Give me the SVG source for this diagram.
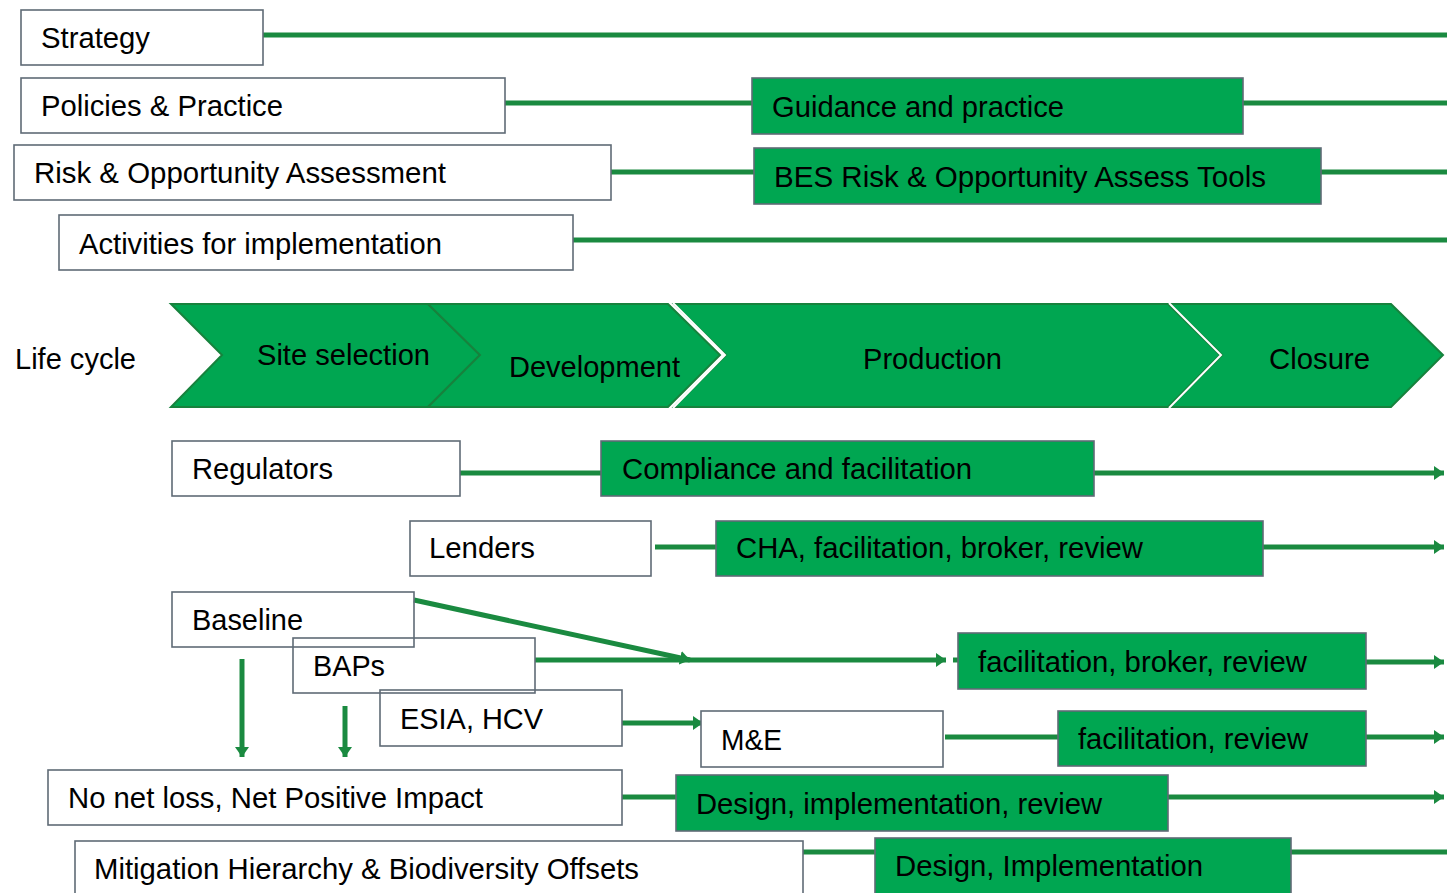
<svg xmlns="http://www.w3.org/2000/svg" width="1447" height="893" viewBox="0 0 1447 893">
<style>
.box{fill:#ffffff;stroke:#5f6b76;stroke-width:1.6}
.open{fill:none;stroke:#5f6b76;stroke-width:1.6}
.gbox{fill:#00a651;stroke:#5f6b76;stroke-width:1.6}
.chev{fill:#00a651;stroke:#17823d;stroke-width:2}
.sep{fill:none;stroke:#ffffff;stroke-width:2}
.ln{fill:none;stroke:#1a8a40;stroke-width:5}
text{font-family:"Liberation Sans",Arial,sans-serif;font-size:29px;fill:#000000}
</style>
<defs>
<marker id="ah" markerUnits="userSpaceOnUse" markerWidth="12" markerHeight="14" refX="10" refY="7" orient="auto">
<path d="M0,0 L10,7 L0,14 Z" fill="#1a8a40"/>
</marker>
</defs>

<g id="connectors">
<line class="ln" x1="263" y1="35" x2="1447" y2="35"/>
<line class="ln" x1="505" y1="103" x2="752" y2="103"/>
<line class="ln" x1="1243" y1="103" x2="1447" y2="103"/>
<line class="ln" x1="611" y1="172" x2="754" y2="172"/>
<line class="ln" x1="1321" y1="172" x2="1447" y2="172"/>
<line class="ln" x1="573" y1="240" x2="1447" y2="240"/>
<line class="ln" x1="460" y1="473" x2="601" y2="473"/>
<line class="ln" x1="1094" y1="473" x2="1444" y2="473" marker-end="url(#ah)"/>
<line class="ln" x1="655" y1="547" x2="716" y2="547"/>
<line class="ln" x1="1263" y1="547" x2="1444" y2="547" marker-end="url(#ah)"/>
<line class="ln" x1="414" y1="600" x2="690" y2="660" marker-end="url(#ah)"/>
<line class="ln" x1="535" y1="660" x2="946" y2="660" marker-end="url(#ah)"/>
<line class="ln" x1="953" y1="660" x2="958" y2="660"/>
<line class="ln" x1="1366" y1="662" x2="1444" y2="662" marker-end="url(#ah)"/>
<line class="ln" x1="622" y1="723" x2="703" y2="723" marker-end="url(#ah)"/>
<line class="ln" x1="945" y1="737" x2="1058" y2="737"/>
<line class="ln" x1="1366" y1="737" x2="1444" y2="737" marker-end="url(#ah)"/>
<line class="ln" x1="242" y1="659" x2="242" y2="757" marker-end="url(#ah)"/>
<line class="ln" x1="345" y1="706" x2="345" y2="757" marker-end="url(#ah)"/>
<line class="ln" x1="622" y1="797" x2="676" y2="797"/>
<line class="ln" x1="1168" y1="797" x2="1444" y2="797" marker-end="url(#ah)"/>
<line class="ln" x1="803" y1="852" x2="875" y2="852"/>
<line class="ln" x1="1291" y1="852" x2="1447" y2="852"/>
</g>

<g id="strategy"><rect class="box" x="21" y="10" width="242" height="55"/><text x="41" y="48" textLength="109" lengthAdjust="spacingAndGlyphs">Strategy</text></g>
<g id="policies"><rect class="box" x="21" y="78" width="484" height="55"/><text x="41" y="116" textLength="242" lengthAdjust="spacingAndGlyphs">Policies &amp; Practice</text></g>
<g id="guidance"><rect class="gbox" x="752" y="78" width="491" height="56"/><text x="772" y="117" textLength="292" lengthAdjust="spacingAndGlyphs">Guidance and practice</text></g>
<g id="risk"><rect class="box" x="14" y="145" width="597" height="55"/><text x="34" y="183" textLength="412" lengthAdjust="spacingAndGlyphs">Risk &amp; Opportunity Assessment</text></g>
<g id="bes"><rect class="gbox" x="754" y="148" width="567" height="56"/><text x="774" y="187" textLength="492" lengthAdjust="spacingAndGlyphs">BES Risk &amp; Opportunity Assess Tools</text></g>
<g id="activities"><rect class="box" x="59" y="215" width="514" height="55"/><text x="79" y="254" textLength="363" lengthAdjust="spacingAndGlyphs">Activities for implementation</text></g>

<g id="lifecycle-label"><text x="15" y="369" textLength="121" lengthAdjust="spacingAndGlyphs">Life cycle</text></g>
<g id="site-selection"><polygon class="chev" points="171,304 428,304 480,355 428,407 171,407 222,355"/><text x="257" y="365" textLength="173" lengthAdjust="spacingAndGlyphs">Site selection</text></g>
<g id="development"><polygon class="chev" points="428,304 668,304 720,355 668,407 428,407 480,355"/><text x="509" y="377" textLength="171" lengthAdjust="spacingAndGlyphs">Development</text></g>
<g id="production"><polygon class="chev" points="674,304 1168,304 1220,355 1168,407 674,407 726,355"/><polyline class="sep" points="673,303 725,355 673,408"/><text x="863" y="369" textLength="139" lengthAdjust="spacingAndGlyphs">Production</text></g>
<g id="closure"><polygon class="chev" points="1170,304 1391,304 1443,355 1391,407 1170,407 1222,355"/><polyline class="sep" points="1169,303 1221,355 1169,408"/><text x="1269" y="369" textLength="101" lengthAdjust="spacingAndGlyphs">Closure</text></g>

<g id="regulators"><rect class="box" x="172" y="441" width="288" height="55"/><text x="192" y="479" textLength="141" lengthAdjust="spacingAndGlyphs">Regulators</text></g>
<g id="compliance"><rect class="gbox" x="601" y="441" width="493" height="55"/><text x="622" y="479" textLength="350" lengthAdjust="spacingAndGlyphs">Compliance and facilitation</text></g>
<g id="lenders"><rect class="box" x="410" y="521" width="241" height="55"/><text x="429" y="558" textLength="106" lengthAdjust="spacingAndGlyphs">Lenders</text></g>
<g id="cha"><rect class="gbox" x="716" y="521" width="547" height="55"/><text x="736" y="558" textLength="407" lengthAdjust="spacingAndGlyphs">CHA, facilitation, broker, review</text></g>

<g id="baseline"><rect class="open" x="172" y="592" width="242" height="55"/><text x="192" y="630" textLength="111" lengthAdjust="spacingAndGlyphs">Baseline</text></g>
<g id="baps"><rect class="open" x="293" y="638" width="242" height="55"/><text x="313" y="676" textLength="72" lengthAdjust="spacingAndGlyphs">BAPs</text></g>
<g id="esia"><rect class="open" x="380" y="690" width="242" height="56"/><text x="400" y="729" textLength="143" lengthAdjust="spacingAndGlyphs">ESIA, HCV</text></g>
<g id="fbr"><rect class="gbox" x="958" y="633" width="408" height="56"/><text x="978" y="672" textLength="329" lengthAdjust="spacingAndGlyphs">facilitation, broker, review</text></g>
<g id="me"><rect class="box" x="701" y="711" width="242" height="56"/><text x="721" y="750" textLength="61" lengthAdjust="spacingAndGlyphs">M&amp;E</text></g>
<g id="fr"><rect class="gbox" x="1058" y="711" width="308" height="55"/><text x="1078" y="749" textLength="230" lengthAdjust="spacingAndGlyphs">facilitation, review</text></g>

<g id="nnl"><rect class="box" x="48" y="770" width="574" height="55"/><text x="68" y="808" textLength="415" lengthAdjust="spacingAndGlyphs">No net loss, Net Positive Impact</text></g>
<g id="dir"><rect class="gbox" x="676" y="775" width="492" height="56"/><text x="696" y="814" textLength="406" lengthAdjust="spacingAndGlyphs">Design, implementation, review</text></g>
<g id="mitigation"><rect class="box" x="75" y="841" width="728" height="60"/><text x="94" y="879" textLength="545" lengthAdjust="spacingAndGlyphs">Mitigation Hierarchy &amp; Biodiversity Offsets</text></g>
<g id="di"><rect class="gbox" x="875" y="838" width="416" height="60"/><text x="895" y="876" textLength="308" lengthAdjust="spacingAndGlyphs">Design, Implementation</text></g>
</svg>
